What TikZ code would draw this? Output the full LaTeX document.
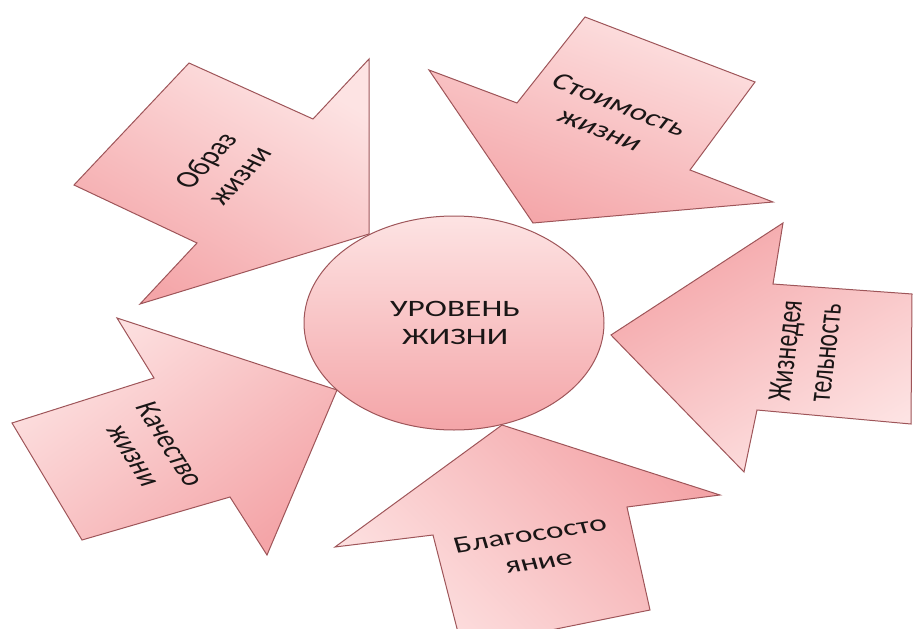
\documentclass[tikz,border=0pt]{standalone}
\usepackage{fontspec}
\setmainfont{Carlito}
\definecolor{pinklight}{HTML}{FDE3E3}
\definecolor{pinkdark}{HTML}{F4A5A8}
\definecolor{edgecol}{HTML}{9E5559}
\definecolor{ink}{HTML}{1A1616}
\tikzset{
  arrowshape/.style={draw=edgecol, line width=1pt, line join=miter,
    top color=pinklight, bottom color=pinkdark},
  arrowtext/.style={transform shape, align=center, inner sep=0pt, text=ink,
    font=\fontsize{23.5}{28}\selectfont},
}
\begin{document}
\begin{tikzpicture}[x=1pt,y=-1pt]
\useasboundingbox (0,0) rectangle (914,629);
\clip (0,0) rectangle (914,629);

% five block arrows around the centre
\path[arrowshape, shading angle=-30]
  (189,63) -- (313,119) -- (369,59) -- (369,234) -- (140,304) -- (197,243) -- (74,185) -- cycle;
\path[arrowshape, shading angle=-20]
  (585,17) -- (755,82) -- (690,170) -- (773,202) -- (533,223) -- (429,70) -- (517,103) -- cycle;
\path[arrowshape, shading angle=210]
  (783,223) -- (773,284) -- (912,294) -- (911,424) -- (757,410) -- (744,472) -- (611,335) -- cycle;
\path[arrowshape, shading angle=37]
  (117,318) -- (154,378) -- (12,423) -- (82,540) -- (230,497) -- (267,555) -- (337,390) -- cycle;
\path[arrowshape, shading angle=135]
  (502,425) -- (720,495) -- (627,507) -- (650,610) -- (462,648) -- (433,535) -- (335,547) -- cycle;

% centre ellipse
\path[arrowshape] (454,323) ellipse [x radius=150, y radius=107];

% text anchor points
\coordinate (p0) at (455,323);
\coordinate (p1) at (222,168);
\coordinate (p2) at (610,117);
\coordinate (p3) at (805,352);
\coordinate (p4) at (152,450);
\coordinate (p5) at (534,548);

% labels, widened horizontally like the shapes
\begin{scope}[xscale=1.42]
  \node[arrowtext] (centre) at (p0) {УРОВЕНЬ\\ЖИЗНИ};
  \node[arrowtext, rotate=57] (obraz) at (p1) {Образ\\жизни};
  \node[arrowtext, rotate=-29] (stoim) at (p2) {Стоимость\\жизни};
  \node[arrowtext, rotate=85] (zhizn) at (p3) {Жизнедея\\тельность};
  \node[arrowtext, rotate=-66] (kach) at (p4) {Качество\\жизни};
  \node[arrowtext, rotate=12] (blago) at (p5) {Благососто\\яние};
\end{scope}
\end{tikzpicture}
\end{document}
